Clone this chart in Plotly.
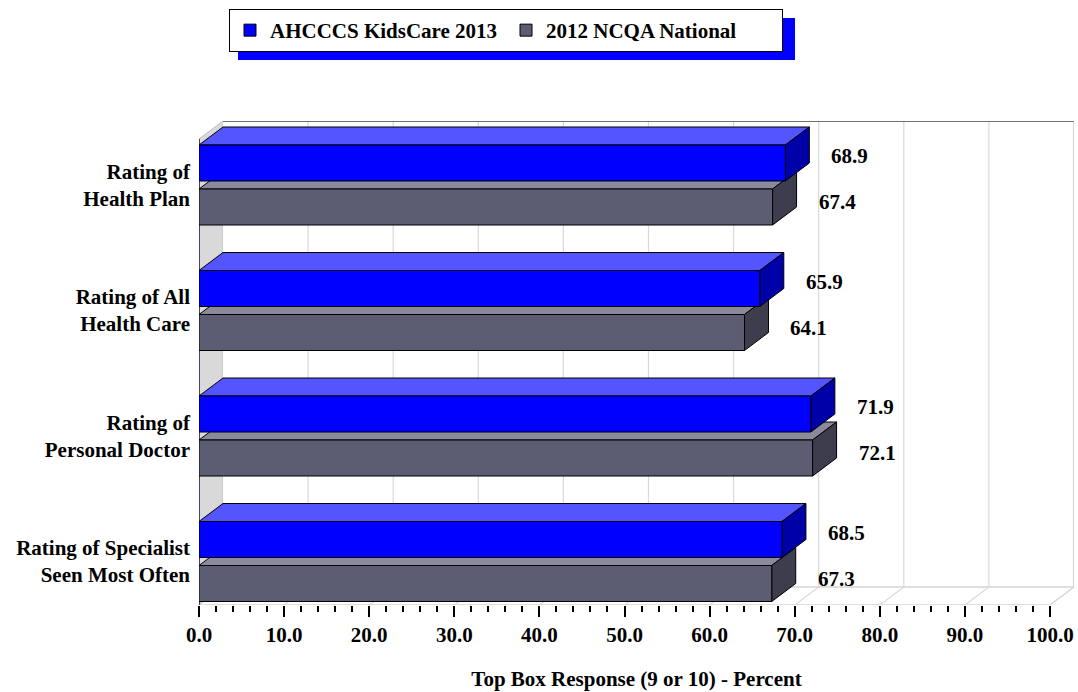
import plotly.graph_objects as go

# ---------------- data ----------------
categories = [
    "Rating of<br>Health Plan",
    "Rating of All<br>Health Care",
    "Rating of<br>Personal Doctor",
    "Rating of Specialist<br>Seen Most Often",
]
kidscare_2013 = [68.9, 65.9, 71.9, 68.5]
ncqa_2012 = [67.4, 64.1, 72.1, 67.3]
series_names = ["AHCCCS KidsCare 2013", "2012 NCQA National"]
x_ticks = [0, 10, 20, 30, 40, 50, 60, 70, 80, 90, 100]
axis_title = "Top Box Response (9 or 10) - Percent"

# ---------------- style / geometry ----------------
W, H = 1078, 692
L, R, T, B = 199, 4, 121, 87
FONT = "Liberation Serif, Times New Roman, serif"
FS = 21
AXIS_MAX = x_ticks[-1]
FRONT_W_PX = 851
DEPTH_X_PX, DEPTH_Y_PX = 24, 18
CAT_PX = 125.5
FIRST_CENTER_PX = 185
BAR_PX, GAP_PX = 36, 4

px_per_x = FRONT_W_PX / AXIS_MAX
DX = DEPTH_X_PX / px_per_x
x_max = (W - L - R) / px_per_x
y_top = -(FIRST_CENTER_PX - T) / CAT_PX
y_bot = y_top + (H - T - B) / CAT_PX
DY = DEPTH_Y_PX / CAT_PX
bar_w = BAR_PX / CAT_PX
gap = GAP_PX / CAT_PX


def px_to_paper_x(px):
    return (px - L) / (W - L - R)


def px_to_paper_y(py):
    return (H - B - py) / (H - T - B)


series = [
    dict(name=series_names[0], vals=kidscare_2013, offset=-(gap + bar_w),
         front="#0000FF", top="#5555FF", side="#0000A8", yshift=7),
    dict(name=series_names[1], vals=ncqa_2012, offset=gap,
         front="#5C5C72", top="#8A8A9C", side="#3D3D4E", yshift=5),
]
ypos = list(range(len(categories)))


def poly(pts):
    return "M " + " L ".join(f"{x},{y}" for x, y in pts) + " Z"


shapes = []
# left wall
shapes.append(dict(type="path", xref="x", yref="y", layer="below",
                   path=poly([(0, y_bot), (DX, y_bot - DY), (DX, y_top), (0, y_top + DY)]),
                   fillcolor="#D9D9D9", line=dict(color="#BFBFBF", width=1)))
# back wall
shapes.append(dict(type="rect", xref="x", yref="y", layer="below",
                   x0=DX, x1=x_max, y0=y_top, y1=y_bot - DY,
                   fillcolor="white", line=dict(width=0)))
# floor
shapes.append(dict(type="path", xref="x", yref="y", layer="below",
                   path=poly([(0, y_bot), (AXIS_MAX, y_bot), (x_max, y_bot - DY), (DX, y_bot - DY)]),
                   fillcolor="white", line=dict(color="#BFBFBF", width=1)))
# grid lines on back wall and floor
for v in x_ticks[1:]:
    shapes.append(dict(type="line", xref="x", yref="y", layer="below",
                       x0=v + DX, x1=v + DX, y0=y_bot - DY, y1=y_top,
                       line=dict(color="#D9D9D9", width=1.2)))
    shapes.append(dict(type="line", xref="x", yref="y", layer="below",
                       x0=v, x1=v + DX, y0=y_bot, y1=y_bot - DY,
                       line=dict(color="#D9D9D9", width=1.2)))
# back wall top edge and right edge
shapes.append(dict(type="line", xref="x", yref="y", layer="below",
                   x0=DX, x1=x_max, y0=y_top, y1=y_top,
                   line=dict(color="#404040", width=1.5)))
shapes.append(dict(type="line", xref="x", yref="y", layer="below",
                   x0=x_max, x1=x_max, y0=y_top, y1=y_bot - DY,
                   line=dict(color="#BFBFBF", width=1)))
# left front axis line
shapes.append(dict(type="line", xref="x", yref="y", layer="below",
                   x0=0, x1=0, y0=y_top + DY, y1=y_bot,
                   line=dict(color="#1A1A40", width=1.5)))

# 3D faces (gray series first so the blue bar sits in front)
for s in reversed(series):
    for i, v in zip(ypos, s["vals"]):
        ft = i + s["offset"]
        fb = ft + bar_w
        shapes.append(dict(type="path", xref="x", yref="y", layer="below",
                           path=poly([(0, ft), (v, ft), (v + DX, ft - DY), (DX, ft - DY)]),
                           fillcolor=s["top"], line=dict(color="black", width=1)))
        shapes.append(dict(type="path", xref="x", yref="y", layer="below",
                           path=poly([(v, ft), (v, fb), (v + DX, fb - DY), (v + DX, ft - DY)]),
                           fillcolor=s["side"], line=dict(color="black", width=1)))

# legend shadow (decoration)
shapes.append(dict(type="rect", xref="paper", yref="paper", layer="below",
                   x0=px_to_paper_x(238), x1=px_to_paper_x(795),
                   y0=px_to_paper_y(60), y1=px_to_paper_y(18),
                   fillcolor="#0000FF", line=dict(width=0)))

fig = go.Figure()
annotations = []
for s in series:
    fig.add_trace(go.Bar(
        name=s["name"], orientation="h", x=s["vals"], y=ypos,
        width=bar_w, offset=s["offset"], base=0,
        marker=dict(color=s["front"], line=dict(color="black", width=1)),
        hoverinfo="x+name",
    ))
    for i, v in zip(ypos, s["vals"]):
        annotations.append(dict(
            x=v + DX, y=i + s["offset"] + bar_w / 2, xref="x", yref="y",
            text=f"{v:.1f}", showarrow=False, xanchor="left", yanchor="middle",
            xshift=20, yshift=s["yshift"],
            font=dict(family=FONT, size=FS, color="black", weight="bold"),
        ))

fig.update_layout(
    width=W, height=H,
    margin=dict(l=L, r=R, t=T, b=B, autoexpand=False),
    paper_bgcolor="white", plot_bgcolor="white",
    barmode="overlay",
    shapes=shapes, annotations=annotations,
    font=dict(family=FONT, size=FS, color="black", weight="bold"),
    showlegend=True,
    legend=dict(
        orientation="h", x=px_to_paper_x(229), y=px_to_paper_y(9),
        xanchor="left", yanchor="top",
        bgcolor="white", bordercolor="black", borderwidth=1,
        font=dict(family=FONT, size=FS, color="black", weight="bold"),
        entrywidth=231, itemwidth=30,
    ),
    xaxis=dict(
        range=[0, x_max], tickvals=x_ticks, tickformat=".1f",
        ticks="outside", ticklen=11, tickwidth=1.5, tickcolor="black",
        showgrid=False, zeroline=False, showline=False,
        minor=dict(tickvals=[v for v in range(0, AXIS_MAX + 1, 2) if v % 10],
                   ticks="outside", ticklen=6, tickwidth=1.5, tickcolor="black", showgrid=False),
        tickfont=dict(family=FONT, size=FS, color="black", weight="bold"),
        title=dict(text=axis_title, standoff=25,
                   font=dict(family=FONT, size=FS, color="black", weight="bold")),
        fixedrange=True,
    ),
    yaxis=dict(
        range=[y_bot, y_top], tickvals=ypos, ticktext=categories,
        showgrid=False, zeroline=False, showline=False, ticks="",
        ticklabelstandoff=8,
        tickfont=dict(family=FONT, size=FS, color="black", weight="bold"),
        fixedrange=True,
    ),
)

fig.write_html("out.html")
